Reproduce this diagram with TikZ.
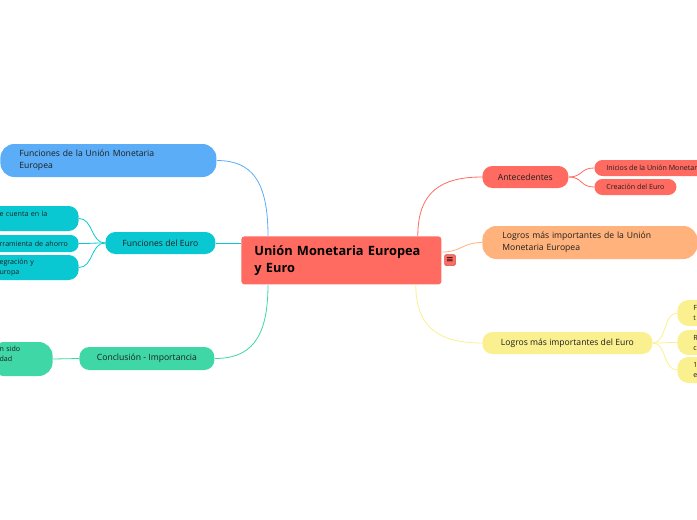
\documentclass[tikz,border=0pt]{standalone}
\usepackage{fontspec}
\setmainfont{Open Sans}
\newfontfamily\symfont{DejaVu Sans}
\usepackage{tikz}
\definecolor{mainred}{HTML}{FF6A61}
\definecolor{umeblue}{HTML}{5AADF6}
\definecolor{euroteal}{HTML}{0AC8D2}
\definecolor{concgreen}{HTML}{3FD7A5}
\definecolor{logorange}{HTML}{FFB27B}
\definecolor{logyellow}{HTML}{FAF08F}
\definecolor{txt}{HTML}{1E1E1E}

\begin{document}
\begin{tikzpicture}[x=1pt,y=-1pt,line width=0.8pt]
    		\tikzstyle{topic}=[rounded corners=10pt,inner sep=0pt,text=txt,font=\fontsize{8.6}{12}\selectfont]
    		\tikzstyle{subtopic}=[topic,rounded corners=8pt,font=\fontsize{7.1}{10}\selectfont]
    		\tikzstyle{central}=[rounded corners=3pt,inner sep=0pt,fill=mainred,text=black,font=\fontsize{12.8}{17}\selectfont\bfseries]
    		\tikzstyle{link}=[line width=0.8pt]
    		
    		\useasboundingbox (0,0) rectangle (697,520);
    		\clip (0,0) rectangle (697,520);
    		
    		% centre
    		\node[central, anchor=north west, minimum width=200pt, minimum height=48pt, text width=174pt, inner xsep=13pt, align=left] (main) at (241,236) {Unión Monetaria Europea\\y Euro};
    		\node[rounded corners=1.5pt, fill=mainred, draw=mainred!80!black, line width=0.5pt, minimum size=11pt, inner sep=0pt, font=\symfont\fontsize{9}{9}\selectfont] (note) at (450,260) {≡};
    		
    		% left side
    		\node[topic, rounded corners=14pt, fill=umeblue, anchor=west, minimum width=216pt, minimum height=33pt, text width=178pt, inner xsep=19pt, align=left] (fun-ume) at (0,160.5) {Funciones de la Unión Monetaria\\Europea};
    		\node[topic, fill=euroteal, anchor=west, minimum width=110pt, minimum height=22pt] (fun-euro) at (105,243) {Funciones del Euro};
    		\node[subtopic, rounded corners=10pt, fill=euroteal, anchor=east, minimum height=25pt, text width=70pt, inner xsep=9pt, align=left] (euro-1) at (79,218.5) {e cuenta en la\\ \mbox{}};
    		\node[subtopic, fill=euroteal, anchor=east, minimum height=17pt, text width=70pt, inner xsep=9pt, align=left] (euro-2) at (79,243.5) {rramienta de ahorro};
    		\node[subtopic, rounded corners=10pt, fill=euroteal, anchor=east, minimum height=25pt, text width=70pt, inner xsep=9pt, align=left] (euro-3) at (79,267.5) {egración y\\uropa};
    		\node[topic, fill=concgreen, anchor=west, minimum width=135pt, minimum height=23pt] (conc) at (79,358.5) {Conclusión - Importancia};
    		\node[subtopic, rounded corners=14pt, fill=concgreen, anchor=east, minimum height=34pt, text width=44pt, inner xsep=9pt, align=left] (conc-1) at (53,359) {n sido\\dad\\ \mbox{}};
    		
    		% right side
    		\node[topic, fill=mainred, anchor=west, minimum width=86pt, minimum height=22pt] (antec) at (482,177) {Antecedentes};
    		\node[subtopic, fill=mainred, anchor=west, minimum height=16pt, inner xsep=12pt] (antec-1) at (594,168) {Inicios de la Unión Monetaria};
    		\node[subtopic, fill=mainred, anchor=west, minimum width=82pt, minimum height=16pt] (antec-2) at (594,187) {Creación del Euro};
    		\node[topic, rounded corners=14pt, fill=logorange, anchor=west, minimum width=215pt, minimum height=33pt, text width=175pt, inner xsep=20pt, align=left] (log-ume) at (482,242.5) {Logros más importantes de la Unión\\Monetaria Europea};
    		\node[topic, fill=logyellow, anchor=west, minimum width=170pt, minimum height=22pt] (log-euro) at (482,343) {Logros más importantes del Euro};
    		\node[subtopic, rounded corners=11pt, fill=logyellow, anchor=west, minimum height=26pt, inner xsep=16pt, align=left] (euro-a) at (677,313) {F\\t};
    		\node[subtopic, rounded corners=11pt, fill=logyellow, anchor=west, minimum height=25pt, inner xsep=16pt, align=left] (euro-b) at (677,342.5) {R\\c};
    		\node[subtopic, rounded corners=11pt, fill=logyellow, anchor=west, minimum height=26pt, inner xsep=16pt, align=left] (euro-c) at (677,370) {1\\e};
    		
    		% connectors from the centre
    		\draw[link, umeblue] ([xshift=27pt]main.north west) .. controls +(0,-55) and +(35,0) .. (fun-ume.east);
    		\draw[link, euroteal] (main.west |- fun-euro) -- (fun-euro.east);
    		\draw[link, concgreen] ([xshift=27pt]main.south west) .. controls +(0,55) and +(35,0) .. (conc.east);
    		\draw[link, mainred] ([xshift=-24pt]main.north east) .. controls +(0,-45) and +(-40,0) .. (antec.west);
    		\draw[link, logorange] ([yshift=-16pt]main.north east) .. controls +(20,0) and +(-20,0) .. (log-ume.west);
    		\draw[link, logyellow] ([xshift=-26pt]main.south east) .. controls +(0,45) and +(-40,0) .. (log-euro.west);
    		
    		% connectors to the children
    		\foreach \child in {euro-1,euro-2,euro-3}
    			\draw[link, euroteal] (fun-euro.west) .. controls +(-14,0) and +(14,0) .. (\child.east);
    		\draw[link, concgreen] (conc.west) -- (conc-1.east);
    		\foreach \child in {antec-1,antec-2}
    			\draw[link, mainred] (antec.east) .. controls +(14,0) and +(-14,0) .. (\child.west);
    		\foreach \child in {euro-a,euro-b,euro-c}
    			\draw[link, logyellow] (log-euro.east) .. controls +(14,0) and +(-14,0) .. (\child.west);
    		
    	\end{tikzpicture}
\end{document}
